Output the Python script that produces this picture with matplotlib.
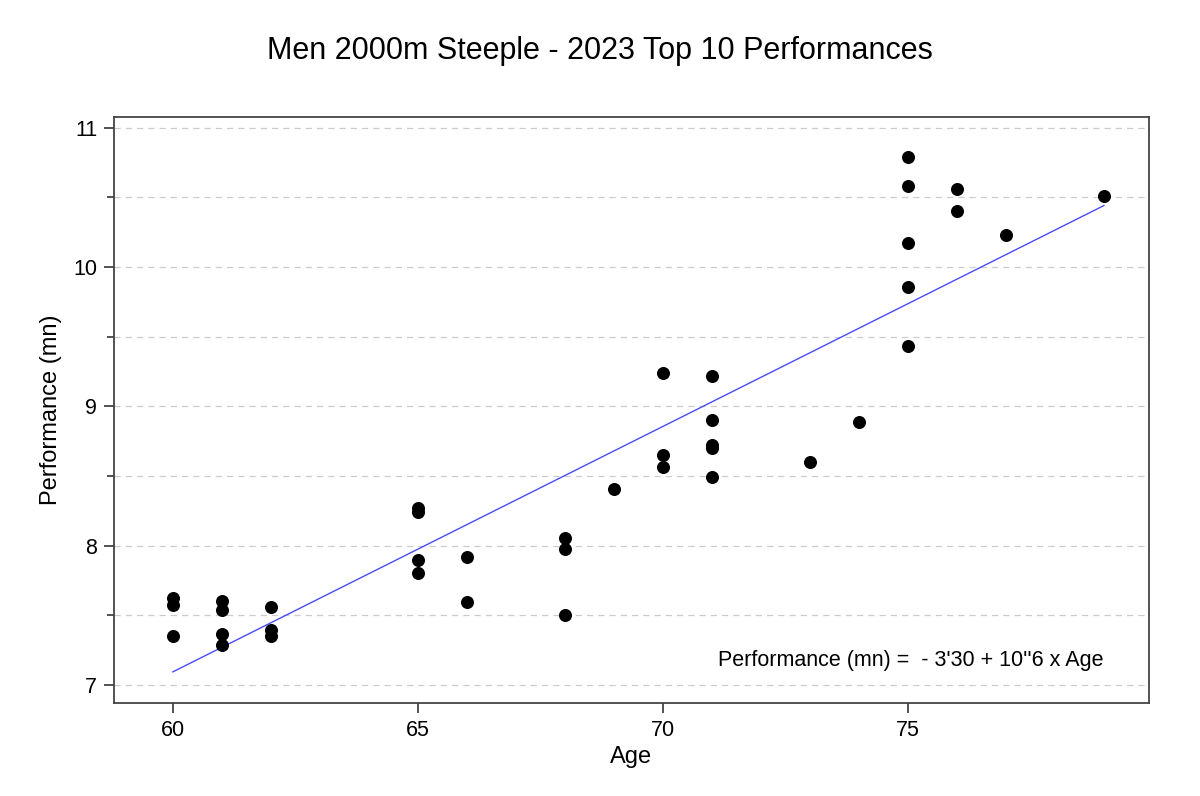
import numpy as np
import matplotlib
matplotlib.use("Agg")
import matplotlib.pyplot as plt
from matplotlib.ticker import MultipleLocator

# values
ages = [60, 60, 60,
        61, 61, 61, 61,
        62, 62, 62,
        65, 65, 65, 65,
        66, 66,
        68, 68, 68,
        69,
        70, 70, 70,
        71, 71, 71, 71, 71,
        73,
        74,
        75, 75, 75, 75, 75,
        76, 76,
        77,
        79]
perf = [7.626, 7.574, 7.353,
        7.602, 7.538, 7.365, 7.286,
        7.557, 7.394, 7.353,
        8.268, 8.243, 7.897, 7.801,
        7.916, 7.597,
        8.059, 7.978, 7.502,
        8.406,
        9.241, 8.650, 8.562,
        9.218, 8.902, 8.722, 8.699, 8.495,
        8.602,
        8.885,
        10.792, 10.581, 10.170, 9.854, 9.433,
        10.558, 10.404,
        10.228,
        10.508]

x_ticks = [60, 65, 70, 75]
y_ticks = [7, 8, 9, 10, 11]
title = "Men 2000m Steeple - 2023 Top 10 Performances"
equation = "Performance (mn) =  - 3'30 + 10''6 x Age"

plt.rcParams['font.family'] = ['Liberation Sans', 'DejaVu Sans']

fig = plt.figure(figsize=(12, 7.96), dpi=100)
ax = fig.add_axes([0.095, 0.1168, 0.8625, 0.7362])

ax.set_xlim(58.8, 79.92)
ax.set_ylim(6.871, 11.077)

ax.yaxis.set_minor_locator(MultipleLocator(0.5))
ax.set_yticks(y_ticks)
ax.set_xticks(x_ticks)
ax.grid(True, which='both', axis='y', linestyle=(0, (5, 4)), color='#cccccc', linewidth=0.9)
ax.set_axisbelow(True)

ax.scatter(ages, perf, s=70, color='black', zorder=3)

# least squares line
slope, icpt = np.polyfit(ages, perf, 1)
xs = np.array([min(ages), max(ages)])
ax.plot(xs, icpt + slope * xs, color='#4a4aff', linewidth=1.0, zorder=2)

ax.text(0.956, 0.073, equation, transform=ax.transAxes, ha='right', va='center', fontsize=15.5)

for sp in ax.spines.values():
    sp.set_color('#444444')
    sp.set_linewidth(1.3)
ax.tick_params(which='major', length=7, width=1.3, color='#444444', labelsize=15.5, pad=5)
ax.tick_params(which='minor', length=5, width=1.3, color='#444444')

ax.set_xlabel("Age", fontsize=17, labelpad=4)
ax.set_ylabel("Performance (mn)", fontsize=17, labelpad=8)
fig.suptitle(title, fontsize=22, y=0.955)

fig.savefig("out.png", dpi=100)
